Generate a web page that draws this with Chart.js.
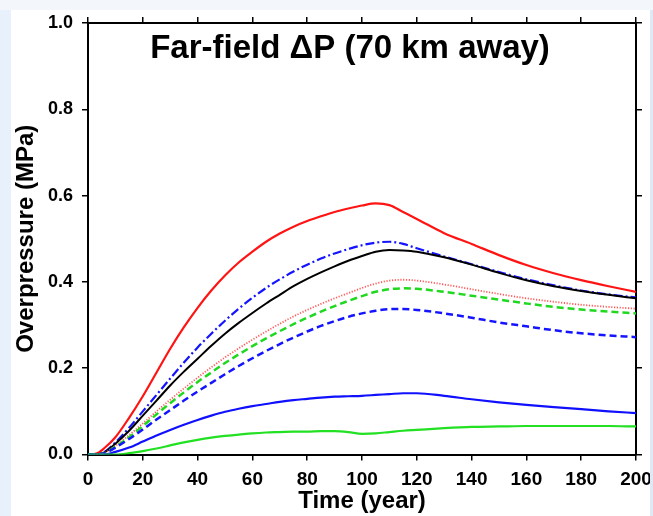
<!DOCTYPE html>
<html>
<head>
<meta charset="utf-8">
<script src="https://cdn.jsdelivr.net/npm/chart.js@4/dist/chart.umd.min.js"></script>
<style>
  html, body { margin: 0; padding: 0; background: #ffffff; }
  #c { display: block; }
</style>
</head>
<body>
<canvas id="c" width="653" height="516"></canvas>
<script>
// ---- data ----
const years = [0,3,6,10,15,20,25,30,35,40,45,50,55,60,65,70,75,80,85,90,95,100,105,110,115,120,130,140,150,160,170,180,190,200];

const redSolid   = [0,0.002,0.015,0.04,0.085,0.135,0.19,0.245,0.295,0.34,0.38,0.415,0.445,0.47,0.493,0.512,0.528,0.541,0.552,0.562,0.57,0.577,0.582,0.578,0.562,0.546,0.513,0.488,0.462,0.439,0.42,0.404,0.39,0.377];
const blueDashDot= [0,0,0.006,0.028,0.062,0.1,0.138,0.176,0.213,0.248,0.28,0.31,0.338,0.363,0.386,0.406,0.424,0.44,0.454,0.466,0.476,0.485,0.491,0.493,0.488,0.478,0.459,0.441,0.423,0.406,0.392,0.38,0.371,0.364];
const blackSolid = [0,0,0.005,0.025,0.055,0.09,0.125,0.16,0.192,0.222,0.252,0.28,0.305,0.328,0.35,0.37,0.39,0.407,0.422,0.436,0.449,0.46,0.47,0.474,0.473,0.47,0.457,0.44,0.421,0.404,0.39,0.379,0.37,0.362];
const redDotted  = [0,0,0.004,0.02,0.045,0.072,0.1,0.127,0.153,0.178,0.202,0.225,0.246,0.266,0.285,0.303,0.32,0.335,0.349,0.362,0.374,0.386,0.396,0.403,0.405,0.403,0.394,0.383,0.372,0.362,0.354,0.347,0.342,0.338];
const greenDashed= [0,0,0.003,0.018,0.04,0.066,0.093,0.119,0.144,0.168,0.19,0.212,0.232,0.251,0.269,0.286,0.302,0.317,0.331,0.344,0.356,0.367,0.377,0.383,0.385,0.384,0.377,0.368,0.359,0.35,0.342,0.336,0.331,0.327];
const blueDashed = [0,0,0.003,0.016,0.036,0.058,0.081,0.103,0.125,0.146,0.166,0.186,0.205,0.223,0.24,0.256,0.271,0.285,0.298,0.309,0.319,0.327,0.333,0.337,0.337,0.335,0.327,0.317,0.306,0.297,0.288,0.281,0.276,0.272];
const blueSolid  = [0,0,0,0.006,0.016,0.03,0.044,0.057,0.069,0.08,0.09,0.099,0.106,0.112,0.117,0.122,0.126,0.129,0.132,0.134,0.135,0.136,0.138,0.14,0.142,0.142,0.136,0.128,0.121,0.115,0.11,0.105,0.1,0.096];
const greenSolid = [0,0,0,0,0.003,0.008,0.014,0.021,0.028,0.034,0.039,0.043,0.046,0.049,0.051,0.052,0.053,0.053,0.054,0.054,0.052,0.048,0.049,0.052,0.055,0.057,0.061,0.064,0.065,0.066,0.066,0.066,0.066,0.065];

const xTicks = [0,20,40,60,80,100,120,140,160,180,200];
const yTicks = [0.0,0.2,0.4,0.6,0.8,1.0];
const titleText = 'Far-field \u0394P (70 km away)';
const xTitle = 'Time (year)';
const yTitle = 'Overpressure (MPa)';

const FONT = "'Liberation Sans', Arial, sans-serif";

function pts(vals) { return years.map((x, i) => ({ x: x, y: vals[i] })); }

function ds(vals, color, width, dash) {
  return {
    data: pts(vals),
    borderColor: color,
    borderWidth: width,
    borderDash: dash || [],
    pointRadius: 0,
    fill: false,
    cubicInterpolationMode: 'monotone'
  };
}

const bgPlugin = {
  id: 'bg',
  beforeDraw(chart) {
    const ctx = chart.ctx;
    ctx.save();
    ctx.fillStyle = '#ffffff';
    ctx.fillRect(0, 0, chart.width, chart.height);
    ctx.fillStyle = '#f3f6fb';
    ctx.fillRect(0, 0, chart.width, 10);
    ctx.fillStyle = '#e8f1fb';
    ctx.fillRect(0, 10, 11, chart.height - 10);
    ctx.restore();
  },
  afterDraw(chart) {
    const ctx = chart.ctx;
    ctx.save();
    ctx.fillStyle = '#000';
    ctx.font = "bold 33px " + FONT;
    ctx.textAlign = 'center';
    ctx.textBaseline = 'middle';
    ctx.fillText(titleText, 350, 49);
    ctx.fillStyle = '#dde9f7';
    ctx.fillRect(650, 10, 3, chart.height - 10);
    ctx.restore();
  }
};

const tickGrid = { drawOnChartArea: false, drawTicks: true, tickLength: 6, color: '#000', lineWidth: 1.5 };
const border = { color: '#000', width: 2 };

new Chart(document.getElementById('c'), {
  type: 'line',
  data: {
    datasets: [
      ds(greenSolid, '#22e022', 2.2),
      ds(blueSolid, '#1010ff', 2.2),
      ds(blueDashed, '#1414ff', 2.5, [7, 4]),
      ds(greenDashed, '#1fd81f', 2.5, [7, 4]),
      ds(redDotted, '#ff5a5a', 1.8, [1.2, 1.6]),
      ds(blackSolid, '#000000', 2),
      ds(blueDashDot, '#1414ff', 2.2, [9, 3, 2, 3]),
      ds(redSolid, '#ff1414', 2.2)
    ]
  },
  options: {
    responsive: false,
    animation: false,
    devicePixelRatio: 1,
    layout: { padding: { left: 0, top: 17, right: 0, bottom: 0 } },
    plugins: { legend: { display: false }, tooltip: { enabled: false }, title: { display: false } },
    scales: {
      x: {
        type: 'linear', position: 'bottom', min: 0, max: 200,
        afterBuildTicks(s) { s.ticks = xTicks.map(v => ({ value: v })); },
        ticks: { color: '#000', font: { family: FONT, size: 19, weight: 'bold' }, padding: 8, maxRotation: 0, autoSkip: false },
        grid: tickGrid, border: border,
        title: { display: true, text: xTitle, color: '#000', font: { family: FONT, size: 24, weight: 'bold' }, padding: { top: 0, bottom: 0 } },
        afterFit(s) { s.height = 61.5; s.paddingLeft = 0; s.paddingRight = 17; }
      },
      x2: {
        type: 'linear', position: 'top', min: 0, max: 200,
        afterBuildTicks(s) { s.ticks = xTicks.map(v => ({ value: v })); },
        ticks: { display: false },
        grid: tickGrid, border: border,
        afterFit(s) { s.height = 6; s.paddingLeft = 0; s.paddingRight = 0; }
      },
      y: {
        type: 'linear', position: 'left', min: 0, max: 1,
        afterBuildTicks(s) { s.ticks = yTicks.map(v => ({ value: v })); },
        ticks: { color: '#000', font: { family: FONT, size: 18, weight: 'bold' }, padding: 9, callback: v => Number(v).toFixed(1) },
        grid: tickGrid, border: border,
        title: { display: true, text: yTitle, color: '#000', font: { family: FONT, size: 24, weight: 'bold' }, padding: { top: 12, bottom: 0 } },
        afterFit(s) { s.width = 88; }
      },
      y2: {
        type: 'linear', position: 'right', min: 0, max: 1,
        afterBuildTicks(s) { s.ticks = yTicks.map(v => ({ value: v })); },
        ticks: { display: false },
        grid: tickGrid, border: border,
        afterFit(s) { s.width = 6; }
      }
    }
  },
  plugins: [bgPlugin]
});
</script>
</body>
</html>
